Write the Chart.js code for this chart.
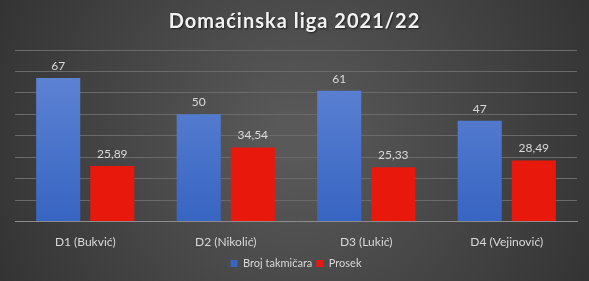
<!DOCTYPE html>
<html>
<head>
<meta charset="utf-8">
<script src="https://cdn.jsdelivr.net/npm/chart.js@4.4.0/dist/chart.umd.min.js"></script>
<style>
  html, body { margin: 0; padding: 0; background: #404040; }
  #mychart { display: block; }
</style>
</head>
<body>
<canvas id="mychart" width="589" height="281"></canvas>
<script>
// podaci
const categories = ['D1 (Bukvić)', 'D2 (Nikolić)', 'D3 (Lukić)', 'D4 (Vejinović)'];
const brojTakmicara = [67, 50, 61, 47];
const prosek = [25.89, 34.54, 25.33, 28.49];
const seriesNames = ['Broj takmičara', 'Prosek'];
const titleText = 'Domaćinska liga 2021/22';

const fmt = v => String(v).replace('.', ',');

// pozadina (tamni gradijent) + naslov
const bgPlugin = {
  id: 'bg',
  beforeDraw(chart) {
    const { ctx, width, height } = chart;
    ctx.save();
    const g = ctx.createRadialGradient(width / 2, height / 2, 20, width / 2, height / 2, width * 0.6);
    g.addColorStop(0, '#595959');
    g.addColorStop(1, '#303030');
    ctx.fillStyle = g;
    ctx.fillRect(0, 0, width, height);

    ctx.font = 'bold 20px Lato';
    ctx.letterSpacing = '1px';
    ctx.textAlign = 'center';
    ctx.textBaseline = 'middle';
    ctx.shadowColor = 'rgba(0,0,0,0.6)';
    ctx.shadowOffsetX = 1;
    ctx.shadowOffsetY = 1;
    ctx.shadowBlur = 2;
    ctx.fillStyle = '#f2f2f2';
    ctx.fillText(titleText, width / 2, 22);
    ctx.restore();
  }
};

// vrednosti iznad stubova
const labelPlugin = {
  id: 'vals',
  afterDatasetsDraw(chart) {
    const ctx = chart.ctx;
    ctx.save();
    ctx.font = '12px Lato';
    ctx.fillStyle = '#d9d9d9';
    ctx.textAlign = 'center';
    ctx.textBaseline = 'bottom';
    chart.data.datasets.forEach((ds, i) => {
      chart.getDatasetMeta(i).data.forEach((bar, j) => {
        ctx.fillText(fmt(ds.data[j]), bar.x, bar.y - 6);
      });
    });
    ctx.restore();
  }
};

function blueGrad(context) {
  const chart = context.chart;
  const area = chart.chartArea;
  if (!area) return '#4472c4';
  const g = chart.ctx.createLinearGradient(0, area.top, 0, area.bottom);
  g.addColorStop(0, '#6287d6');
  g.addColorStop(1, '#3865c2');
  return g;
}

let ctx = document.getElementById('mychart');
let myChart = new Chart(ctx, {
  type: 'bar',
  data: {
    labels: categories,
    datasets: [{
      label: seriesNames[0],
      data: brojTakmicara,
      backgroundColor: blueGrad,
      categoryPercentage: 0.77,
      barPercentage: 0.815,
    }, {
      label: seriesNames[1],
      data: prosek,
      backgroundColor: '#e8190c',
      categoryPercentage: 0.77,
      barPercentage: 0.815,
    }],
  },
  options: {
    responsive: false,
    animation: false,
    layout: { padding: { left: 15, right: 12, top: 50, bottom: 2 } },
    plugins: {
      title: { display: false },
      legend: {
        position: 'bottom',
        labels: {
          color: '#d9d9d9',
          font: { family: 'Lato', size: 11 },
          boxWidth: 7,
          boxHeight: 7,
          padding: 4,
        },
      },
      tooltip: { enabled: false },
    },
    scales: {
      x: {
        grid: { display: false },
        border: { color: '#8c8c8c' },
        ticks: { color: '#d9d9d9', font: { family: 'Lato', size: 12 }, padding: 5 },
      },
      y: {
        min: 0,
        max: 80,
        ticks: { stepSize: 10, display: false },
        grid: { color: '#6a6a6a', drawTicks: false },
        border: { display: false },
      },
    },
  },
  plugins: [bgPlugin, labelPlugin],
});
</script>
</body>
</html>
